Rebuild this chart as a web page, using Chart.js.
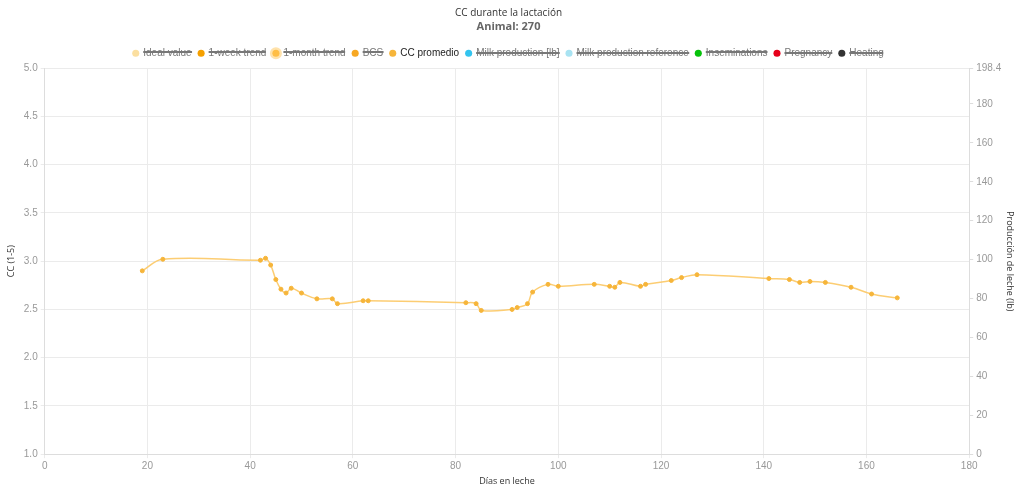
<!DOCTYPE html>
<html>
<head>
<meta charset="utf-8">
<script src="https://cdn.jsdelivr.net/npm/chart.js@4/dist/chart.umd.min.js"></script>
<style>
  html, body { margin:0; padding:0; background:#fff; }
  #wrap { width:1024px; height:496px; }
</style>
</head>
<body>
<div id="wrap"><canvas id="ccChart"></canvas></div>
<script>
// Días en leche / CC promedio
const days = [19, 23, 42, 43, 44, 45, 46, 47, 48, 50, 53, 56, 57, 62, 63,
  82, 84, 85, 91, 92, 94, 95, 98, 100, 107, 110, 111, 112, 116, 117, 122, 124, 127,
  141, 145, 147, 149, 152, 157, 161, 166];
const ccValues = [2.9, 3.02, 3.01, 3.03, 2.96, 2.81, 2.71, 2.67, 2.72, 2.67, 2.61, 2.61, 2.56, 2.59, 2.59,
  2.57, 2.56, 2.49, 2.5, 2.52, 2.56, 2.68, 2.76, 2.74, 2.76, 2.74, 2.73, 2.78, 2.74, 2.76, 2.8, 2.83, 2.86,
  2.82, 2.81, 2.78, 2.79, 2.78, 2.73, 2.66, 2.62];

// series ocultas (sin datos visibles)
const idealValue = [];
const weekTrend = [];
const monthTrend = [];
const bcsValues = [];
const milkProduction = [];
const milkReference = [];
const inseminations = [];
const pregnancy = [];
const heating = [];

const milkTicks = [0, 20, 40, 60, 80, 100, 120, 140, 160, 180, 198.4];

const toXY = (xs, ys) => xs.map((d, i) => ({x: d, y: ys[i]}));

const ctx = document.getElementById('ccChart').getContext('2d');
const tickFont = { family: "'Liberation Sans', Arial", size: 10 };

function ds(label, data, color, extra){
  return Object.assign({
    label, data,
    borderColor: color, backgroundColor: color,
    pointBackgroundColor: color, pointBorderColor: color,
    yAxisID: 'y', hidden: true
  }, extra || {});
}

const datasets = [
  ds('Ideal value', idealValue, '#fbdfa0'),
  ds('1-week trend', weekTrend, '#f5a000'),
  ds('1-month trend', monthTrend, '#ffbe45', {borderWidth: 5, borderColor: 'rgba(255,190,69,0.45)'}),
  ds('BCS', bcsValues, '#f7a823'),
  ds('CC promedio', toXY(days, ccValues), '#f8c55c', {
    hidden: false,
    borderColor: 'rgba(252,200,100,0.9)',
    pointBackgroundColor: '#f6b53a', pointBorderColor: '#f6b53a',
    borderWidth: 1.5, pointRadius: 2, pointBorderWidth: 1, tension: 0.4
  }),
  ds('Milk production [lb]', milkProduction, '#33c4ef', {yAxisID: 'y1'}),
  ds('Milk production reference', milkReference, '#a9e3f2', {yAxisID: 'y1'}),
  ds('Inseminations', inseminations, '#06c20a'),
  ds('Pregnancy', pregnancy, '#e6001a'),
  ds('Heating', heating, '#333333')
];

new Chart(ctx, {
  type: 'line',
  data: { datasets },
  options: {
    responsive: true,
    maintainAspectRatio: false,
    animation: false,
    layout: { padding: { left: 2, right: 9, top: 2, bottom: 5 } },
    plugins: {
      title: {
        display: true, text: 'CC durante la lactación', color: '#333',
        font: { family: "'Open Sans'", size: 10, weight: 'normal' },
        padding: { top: 5, bottom: 1 }
      },
      subtitle: {
        display: true, text: 'Animal: 270', color: '#666',
        font: { family: "'Open Sans'", size: 11, weight: 'bold' },
        padding: { bottom: 8 }
      },
      legend: {
        position: 'top',
        labels: {
          usePointStyle: true, boxWidth: 5, boxHeight: 5, padding: 7,
          color: '#777',
          font: { family: "'Liberation Sans', Arial", size: 10 },
          generateLabels(chart){
            const items = Chart.defaults.plugins.legend.labels.generateLabels(chart);
            items.forEach(it => {
              const d = chart.data.datasets[it.datasetIndex];
              it.fillStyle = d.pointBackgroundColor;
              it.strokeStyle = d.borderColor;
              it.lineWidth = it.datasetIndex === 2 ? 5 : 0;
              it.pointStyle = 'circle';
              it.fontColor = it.hidden ? '#777' : '#222';
            });
            return items;
          }
        }
      },
      tooltip: { mode: 'nearest', intersect: false }
    },
    scales: {
      x: {
        type: 'linear', min: 0, max: 180,
        ticks: { stepSize: 20, color: '#999', font: tickFont, padding: 2 },
        grid: { color: '#ebebeb', tickLength: 4 },
        border: { color: '#ddd' },
        title: { display: true, text: 'Días en leche', color: '#333',
          font: { family: "'Open Sans'", size: 9 }, padding: { top: 2 } }
      },
      y: {
        position: 'left', min: 1, max: 5,
        ticks: { stepSize: 0.5, color: '#999', font: tickFont,
          callback: v => Number(v).toFixed(1) },
        grid: { color: '#ebebeb', tickLength: 4 },
        border: { color: '#ddd' },
        title: { display: true, text: 'CC (1-5)', color: '#333',
          font: { family: "'Open Sans'", size: 9 } }
      },
      y1: {
        position: 'right', min: 0, max: 198.4,
        afterBuildTicks: axis => { axis.ticks = milkTicks.map(v => ({ value: v })); },
        ticks: { color: '#999', font: tickFont, padding: 3 },
        grid: { drawOnChartArea: false, color: '#ddd', tickLength: 4 },
        border: { color: '#ddd' },
        title: { display: true, text: 'Producción de leche (lb)', color: '#333',
          font: { family: "'Open Sans'", size: 9 }, padding: 0 }
      }
    }
  }
});
</script>
</body>
</html>
